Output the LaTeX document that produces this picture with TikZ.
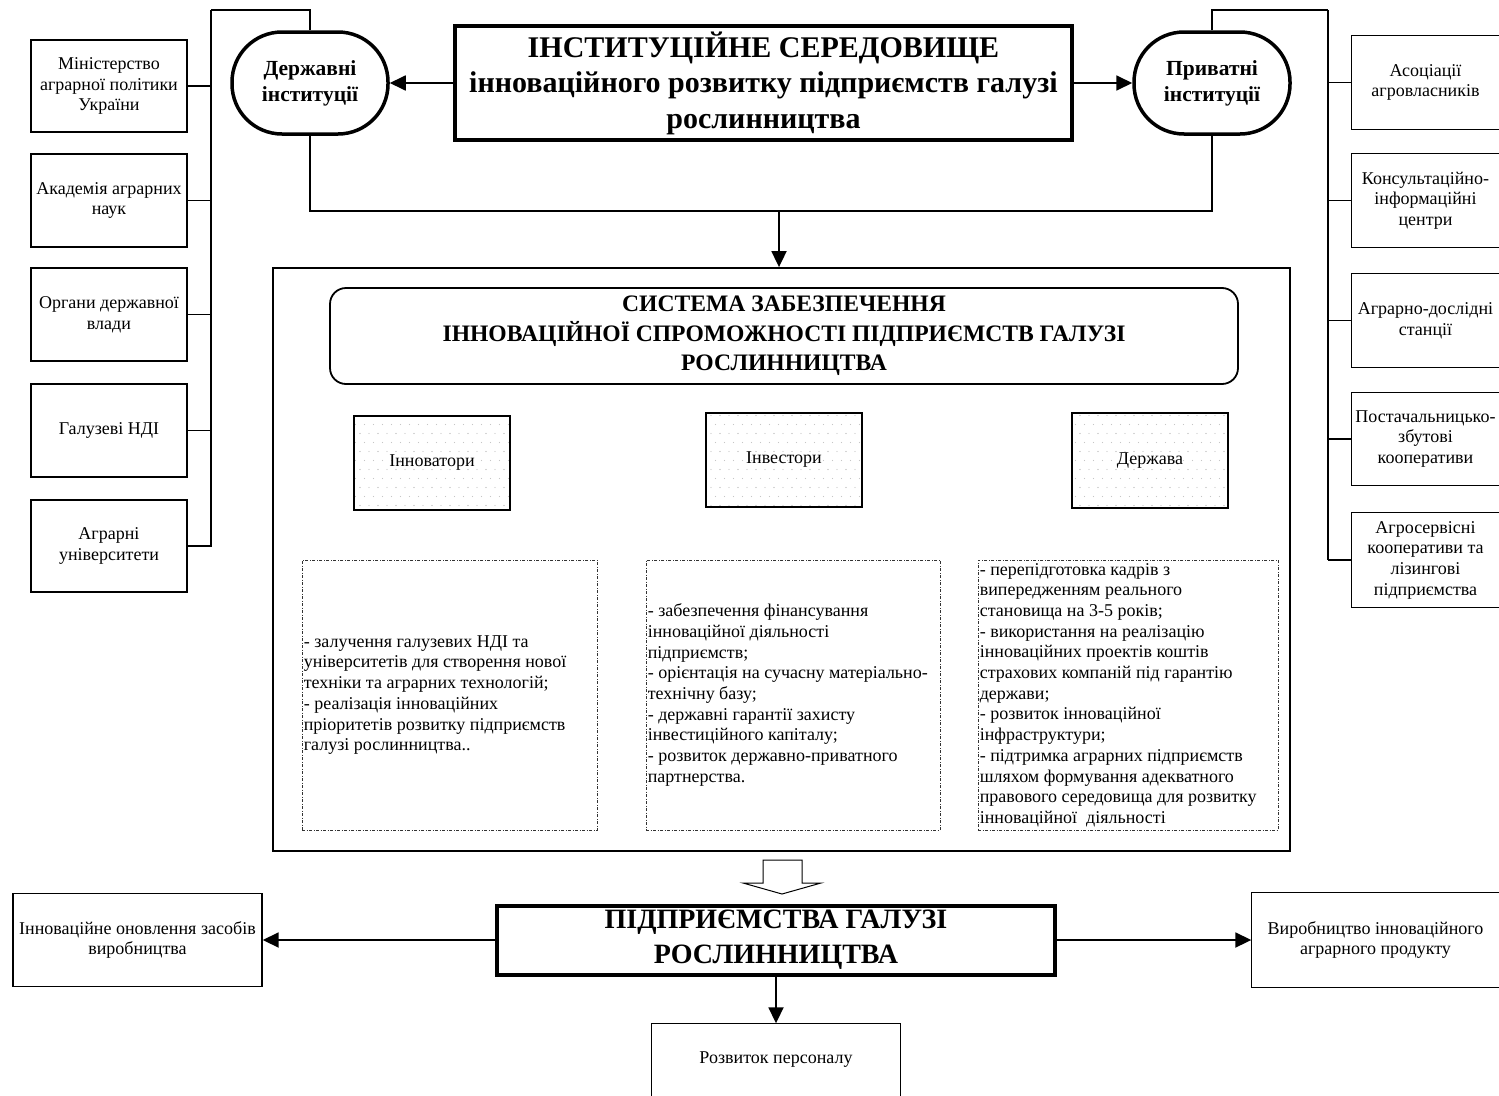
\documentclass[tikz,border=0pt]{standalone}
\usepackage{fontspec}
\setmainfont{Liberation Serif}
\usetikzlibrary{arrows.meta,patterns}
\pgfdeclarepatternformonly{sparsedots}{\pgfpoint{-1pt}{-1pt}}{\pgfpoint{19pt}{19pt}}{\pgfpoint{18pt}{18pt}}{%
 \pgfpathcircle{\pgfpoint{4.5pt}{4.5pt}}{0.55pt}%
 \pgfpathcircle{\pgfpoint{13.5pt}{4.5pt}}{0.55pt}%
 \pgfpathcircle{\pgfpoint{0pt}{13.5pt}}{0.55pt}%
 \pgfpathcircle{\pgfpoint{9pt}{13.5pt}}{0.55pt}%
 \pgfpathcircle{\pgfpoint{18pt}{13.5pt}}{0.55pt}%
 \pgfusepath{fill}}
\tikzset{
 conn/.style={line width=1.8pt},
 arr/.style={line width=1.8pt,-{Triangle[length=16pt,width=15pt]}},
 sbox/.style={draw,line width=1.4pt,inner sep=0pt,align=center,font={\fontsize{18}{20.7}\selectfont}},
 obox/.style={sbox,draw=none},
 edge3/.style={line width=1.4pt},
 oval/.style={draw,line width=3.5pt,rounded corners=50pt,minimum width=156pt,minimum height=102pt,inner sep=0pt,align=center,font={\bfseries\fontsize{21.5}{26}\selectfont}},
 mainbox/.style={draw,line width=4pt,inner sep=0pt,align=center},
 bigbox/.style={draw,line width=1.8pt,inner sep=0pt},
 sysbox/.style={draw,line width=1.8pt,rounded corners=16pt,inner sep=0pt,align=center,font={\bfseries\fontsize{23.6}{29.5}\selectfont}},
 dotbox/.style={draw,line width=2.2pt,pattern=sparsedots,pattern color=gray!45,inner sep=0pt,minimum width=156pt,font={\fontsize{18}{20.7}\selectfont}},
 dbox/.style={draw=black!80,line width=0.8pt,dash pattern=on 3pt off 1.5pt on 1pt off 1.5pt,inner sep=0pt,minimum height=270pt},
 dtext/.style={inner sep=0pt,align=left,anchor=west,font={\fontsize{18}{20.7}\selectfont}},
}
\newcommand\openright[1]{\draw[edge3] (#1.north east) -- (#1.north west) -- (#1.south west) -- (#1.south east);}
\begin{document}
\begin{tikzpicture}[x=1pt,y=-1pt]
\useasboundingbox (0,0) rectangle (1499,1095);

% ---------- left column ----------
\node[sbox,minimum width=156pt,minimum height=92pt] (l1) at (109,86) {Міністерство\\аграрної політики\\України};
\node[sbox,minimum width=156pt,minimum height=93pt] (l2) at (109,200.5) {Академія аграрних\\наук};
\node[sbox,minimum width=156pt,minimum height=93pt] (l3) at (109,314.5) {Органи державної\\влади};
\node[sbox,minimum width=156pt,minimum height=93pt] (l4) at (109,430.5) {Галузеві НДІ};
\node[sbox,minimum width=156pt,minimum height=92pt] (l5) at (109,546) {Аграрні\\університети};

% ---------- right column ----------
\node[obox,minimum width=147pt,minimum height=93pt] (r1) at (1425.5,82.5) {Асоціації\\агровласників};
\node[obox,minimum width=147pt,minimum height=93pt] (r2) at (1425.5,200.5) {Консультаційно-\\інформаційні\\центри};
\node[obox,minimum width=147pt,minimum height=93pt] (r3) at (1425.5,320.5) {Аграрно-дослідні\\станції};
\node[obox,minimum width=147pt,minimum height=92pt] (r4) at (1425.5,439) {Постачальницько-\\збутові\\кооперативи};
\node[obox,minimum width=147pt,minimum height=94pt] (r5) at (1425.5,560) {Агросервісні\\кооперативи та\\лізингові\\підприємства};
\openright{r1}\openright{r2}\openright{r3}\openright{r4}\openright{r5}

% ---------- top row ----------
\node[oval] (dov) at (310,83) {Державні\\інституції};
\node[oval] (prov) at (1212,83) {Приватні\\інституції};
\node[mainbox,minimum width=617pt,minimum height=114pt,font={\bfseries\fontsize{30}{35.5}\selectfont}] (main) at (763.5,83)
 {ІНСТИТУЦІЙНЕ СЕРЕДОВИЩЕ\\інноваційного розвитку підприємств галузі\\рослинництва};

\draw[arr] (main.west) -- (dov.east);
\draw[arr] (main.east) -- (prov.west);

% buses
\coordinate (lbusT) at (211,10);
\coordinate (lbusB) at (211,547);
\coordinate (rbusT) at (1328,10);
\coordinate (rbusB) at (1328,560);
\draw[conn] (lbusT) -- (lbusB);
\draw[conn] (rbusT) -- (rbusB);
\draw[conn] (dov.north) -- (dov.north |- lbusT) -- (lbusT);
\draw[conn] (prov.north) -- (prov.north |- rbusT) -- (rbusT);
\foreach \n in {l1,l2,l3,l4,l5}{\draw[conn] (\n.east) -- (\n.east -| lbusT);}
\foreach \n in {r1,r2,r3,r4,r5}{\draw[conn] (\n.west) -- (\n.west -| rbusT);}

% loop under ovals
\coordinate (loopR) at (1212,211);
\coordinate (dn) at (779,211);
\draw[conn] (dov.south) |- (loopR) -- (prov.south);

% ---------- big box ----------
\node[bigbox,minimum width=1017pt,minimum height=583pt] (big) at (781.5,559.5) {};
\draw[arr] (dn) -- (dn |- big.north);

\node[sysbox,minimum width=908pt,minimum height=96pt] (sys) at (784,336)
 {СИСТЕМА ЗАБЕЗПЕЧЕННЯ\\ІННОВАЦІЙНОЇ СПРОМОЖНОСТІ ПІДПРИЄМСТВ ГАЛУЗІ\\РОСЛИННИЦТВА};

\node[dotbox,minimum height=94pt] (inn) at (432,463) {Інноватори};
\node[dotbox,minimum height=94pt] (inv) at (784,460) {Інвестори};
\node[dotbox,minimum height=95pt] (der) at (1150,460.5) {Держава};

\node[dbox,minimum width=295pt] (d1) at (449.5,695) {};
\node[dbox,minimum width=294pt] (d2) at (793,695) {};
\node[dbox,minimum width=300pt] (d3) at (1128,695) {};

\node[dtext] (t1) at ([xshift=2pt]d1.west) {- залучення галузевих НДІ та\\університетів для створення нової\\техніки та аграрних технологій;\\- реалізація інноваційних\\пріоритетів розвитку підприємств\\галузі рослинництва..};
\node[dtext] (t2) at ([xshift=2pt]d2.west) {- забезпечення фінансування\\інноваційної діяльності\\підприємств;\\- орієнтація на сучасну матеріально-\\технічну базу;\\- державні гарантії захисту\\інвестиційного капіталу;\\- розвиток державно-приватного\\партнерства.};
\node[dtext] (t3) at ([xshift=2pt]d3.west) {- перепідготовка кадрів з\\випередженням реального\\становища на 3-5 років;\\- використання на реалізацію\\інноваційних проектів коштів\\страхових компаній під гарантію\\держави;\\- розвиток інноваційної\\інфраструктури;\\- підтримка аграрних підприємств\\шляхом формування адекватного\\правового середовища для розвитку\\інноваційної\ \ діяльності};

% ---------- bottom ----------
\draw[line width=1pt] (763,860) -- (763,883) -- (743,883) -- (782,894) -- (821,883) -- (802,883) -- (802,860) -- cycle;

\node[mainbox,minimum width=558pt,minimum height=69pt,font={\bfseries\fontsize{28}{35}\selectfont}] (pm) at (776,940)
 {ПІДПРИЄМСТВА ГАЛУЗІ\\РОСЛИННИЦТВА};
\node[sbox,minimum width=249pt,minimum height=93pt] (innov) at (137.5,940) {Інноваційне оновлення засобів\\виробництва};
\node[obox,minimum width=247pt,minimum height=94pt] (vyr) at (1375.5,940) {Виробництво інноваційного\\аграрного продукту};
\openright{vyr}
\node[obox,minimum width=248pt,minimum height=72pt] (roz) at (776,1060) {Розвиток персоналу};
\draw[edge3] (roz.south west) -- (roz.north west) -- (roz.north east) -- (roz.south east);

\draw[arr] (pm.west) -- (innov.east);
\draw[arr] (pm.east) -- (vyr.west);
\draw[arr] (pm.south) -- (roz.north);
\end{tikzpicture}
\end{document}
